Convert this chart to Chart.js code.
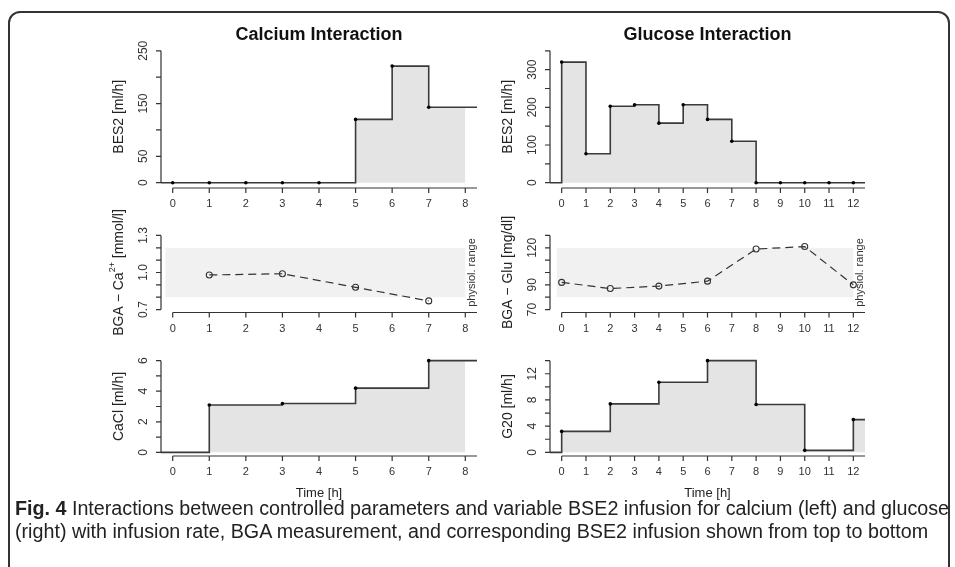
<!DOCTYPE html>
<html>
<head>
<meta charset="utf-8">
<script src="https://cdn.jsdelivr.net/npm/chart.js@4/dist/chart.umd.min.js"></script>
<style>
  body { margin: 0; background: #fff; width: 955px; height: 567px; overflow: hidden; position: relative; }
  canvas { position: absolute; left: 0; top: 0; }
  #frame { position: absolute; left: 8px; top: 11px; width: 938px; height: 620px; border: 2px solid #333; border-radius: 12px; }
  #caption { position: absolute; left: 15px; top: 497px; font-family: "Liberation Sans", Arial, sans-serif; font-size: 20px; line-height: 23px; color: #222; white-space: nowrap; }
  #caption span { display: inline-block; transform-origin: 0 50%; }
</style>
</head>
<body>
<div id="frame"></div>
<canvas id="c1" width="955" height="567"></canvas>
<canvas id="c2" width="955" height="567"></canvas>
<canvas id="c3" width="955" height="567"></canvas>
<canvas id="c4" width="955" height="567"></canvas>
<canvas id="c5" width="955" height="567"></canvas>
<canvas id="c6" width="955" height="567"></canvas>
<div id="caption"><span id="cap1"><b>Fig. 4</b> Interactions between controlled parameters and variable BSE2 infusion for calcium (left) and glucose</span><br><span id="cap2">(right) with infusion rate, BGA measurement, and corresponding BSE2 infusion shown from top to bottom</span></div>
<script>
// Calcium (links)
const caHours = [0, 1, 2, 3, 4, 5, 6, 7, 8];
const caBes2Time = [0, 1, 2, 3, 4, 5, 6, 7];
const caBes2 = [0, 0, 0, 0, 0, 120, 221, 143];
const caBgaTime = [1, 3, 5, 7];
const caBga = [0.98, 0.99, 0.88, 0.77];
const caRange = [0.8, 1.2];
const caclTime = [1, 3, 5, 7];
const cacl = [3.1, 3.2, 4.2, 6.0];

// Glucose (rechts)
const gluHours = [0, 1, 2, 3, 4, 5, 6, 7, 8, 9, 10, 11, 12];
const gluBes2Time = [0, 1, 2, 3, 4, 5, 6, 7, 8, 9, 10, 11, 12];
const gluBes2 = [320, 77, 203, 207, 158, 207, 168, 110, 0, 0, 0, 0, 0];
const gluBgaTime = [0, 2, 4, 6, 8, 10, 12];
const gluBga = [92, 87, 89, 93, 119, 121, 90];
const gluRange = [80, 120];
const g20Time = [0, 2, 4, 6, 8, 10, 12];
const g20 = [3.2, 7.4, 10.7, 14, 7.3, 0.3, 5];

// tick positions and labels (y)
const caBes2Ticks = [0, 50, 100, 150, 200, 250];
const caBes2Labels = ['0', '50', '150', '250'];
const gluBes2Ticks = [0, 50, 100, 150, 200, 250, 300, 350];
const gluBes2Labels = ['0', '100', '200', '300'];
const caBgaTicks = [0.7, 0.8, 0.9, 1.0, 1.1, 1.2, 1.3];
const caBgaLabels = ['0.7', '1.0', '1.3'];
const gluBgaTicks = [70, 80, 90, 100, 110, 120, 130];
const gluBgaLabels = ['70', '90', '120'];
const caclTicks = [0, 1, 2, 3, 4, 5, 6];
const caclLabels = ['0', '2', '4', '6'];
const g20Ticks = [0, 2, 4, 6, 8, 10, 12, 14];
const g20Labels = ['0', '4', '8', '12'];

const FONT = '"Liberation Sans", Arial, sans-serif';
const W = 955, H = 567;

// Caption schmal ziehen (Schrift wie im Original)
const capW = document.getElementById('cap1').getBoundingClientRect().width;
const capScale = 934 / capW;
document.getElementById('cap1').style.transform = 'scaleX(' + capScale + ')';
document.getElementById('cap2').style.transform = 'scaleX(' + capScale + ')';

// R-artige Achsen, Band und Beschriftungen
const rAxes = {
  id: 'rAxes',
  beforeDatasetsDraw(chart, args, o) {
    if (!o.band) return;
    const { ctx, scales: { x, y } } = chart;
    const x0 = x.getPixelForValue(o.band.x[0]), x1 = x.getPixelForValue(o.band.x[1]);
    const y0 = y.getPixelForValue(o.band.y[0]), y1 = y.getPixelForValue(o.band.y[1]);
    ctx.save();
    ctx.fillStyle = '#f1f1f1';
    ctx.fillRect(x0, y1, x1 - x0, y0 - y1);
    ctx.translate(x1 + 7, (y0 + y1) / 2);
    ctx.rotate(-Math.PI / 2);
    ctx.font = '11px ' + FONT;
    ctx.fillStyle = '#333';
    ctx.textAlign = 'center';
    ctx.textBaseline = 'middle';
    ctx.fillText('physiol. range', 0, 0);
    ctx.restore();
  },
  afterDraw(chart, args, o) {
    const { ctx, chartArea: a, scales: { x, y } } = chart;
    ctx.save();
    ctx.strokeStyle = '#333';
    ctx.lineWidth = 1.2;
    ctx.beginPath();
    const yt = o.yTicks;
    ctx.moveTo(a.left, y.getPixelForValue(yt[0]));
    ctx.lineTo(a.left, y.getPixelForValue(yt[yt.length - 1]));
    yt.forEach(v => {
      const p = y.getPixelForValue(v);
      ctx.moveTo(a.left, p); ctx.lineTo(a.left - 5, p);
    });
    const xt = o.xTicks;
    ctx.moveTo(x.getPixelForValue(xt[0]), a.bottom);
    ctx.lineTo(a.right, a.bottom);
    xt.forEach(v => {
      const p = x.getPixelForValue(v);
      ctx.moveTo(p, a.bottom); ctx.lineTo(p, a.bottom + 5);
    });
    ctx.stroke();

    ctx.fillStyle = '#333';
    ctx.textAlign = 'center';
    ctx.textBaseline = 'middle';
    ctx.font = '11px ' + FONT;
    xt.forEach(v => ctx.fillText(String(v), x.getPixelForValue(v), a.bottom + 16));
    ctx.font = '12px ' + FONT;
    o.yLabels.forEach(s => {
      ctx.save();
      ctx.translate(a.left - 17, y.getPixelForValue(parseFloat(s)));
      ctx.rotate(-Math.PI / 2);
      ctx.fillText(s, 0, 0);
      ctx.restore();
    });

    // y-Titel (mit Hochstellung)
    ctx.save();
    ctx.fillStyle = '#222';
    ctx.translate(a.left - 42, (a.top + a.bottom) / 2);
    ctx.rotate(-Math.PI / 2);
    ctx.textAlign = 'left';
    const parts = o.yTitle;
    let total = 0;
    parts.forEach(p => {
      ctx.font = (p.sup ? '9px ' : '14px ') + FONT;
      p.w = ctx.measureText(p.t).width;
      total += p.w;
    });
    let cx = -total / 2;
    parts.forEach(p => {
      ctx.font = (p.sup ? '9px ' : '14px ') + FONT;
      ctx.fillText(p.t, cx, p.sup ? -6 : 0);
      cx += p.w;
    });
    ctx.restore();

    ctx.fillStyle = '#111';
    if (o.title) {
      ctx.font = 'bold 18px ' + FONT;
      ctx.fillText(o.title, (a.left + a.right) / 2, 35);
    }
    if (o.xTitle) {
      ctx.font = '13px ' + FONT;
      ctx.fillStyle = '#222';
      ctx.fillText(o.xTitle, (a.left + a.right) / 2, a.bottom + 37);
    }
    ctx.restore();
  }
};

function pts(times, values) {
  return times.map((t, i) => ({ x: t, y: values[i] }));
}

function stepSets(times, values, xMin, xMax, fillEnd) {
  const last = values[values.length - 1];
  return [
    { data: pts(times, values), showLine: false, pointRadius: 1.8, pointBackgroundColor: '#000', pointBorderWidth: 0 },
    { data: [{ x: xMin, y: 0 }].concat(pts(times, values), [{ x: xMax, y: last }]),
      stepped: 'before', borderColor: '#3a3a3a', borderWidth: 1.6, pointRadius: 0, fill: false },
    { data: pts(times, values).concat([{ x: fillEnd, y: last }]),
      stepped: 'before', borderWidth: 0, borderColor: 'rgba(0,0,0,0)', pointRadius: 0,
      fill: 'origin', backgroundColor: '#e4e4e4' }
  ];
}

function bgaSets(times, values) {
  return [
    { data: pts(times, values), borderColor: '#333', borderWidth: 1.2, borderDash: [8, 5],
      pointRadius: 3, pointBorderWidth: 1.1, pointBorderColor: '#333',
      pointBackgroundColor: 'rgba(0,0,0,0)', fill: false, tension: 0 }
  ];
}

function panel(id, box, xr, yr, datasets, axes) {
  new Chart(document.getElementById(id), {
    type: 'line',
    data: { datasets: datasets },
    options: {
      responsive: false,
      animation: false,
      devicePixelRatio: 1,
      events: [],
      layout: { padding: { left: box[0], top: box[1], right: W - box[2], bottom: H - box[3] } },
      scales: {
        x: { type: 'linear', min: xr[0], max: xr[1], display: false },
        y: { type: 'linear', min: yr[0], max: yr[1], display: false }
      },
      plugins: { legend: { display: false }, tooltip: { enabled: false }, rAxes: axes }
    },
    plugins: [rAxes]
  });
}

const L = [161, 477], R = [550, 865];
const row1 = [45.5, 188], row2 = [232.5, 312.5], row3 = [357, 456];
const caX = [-0.32, 8.32], gluX = [-0.48, 12.48];

panel('c1', [L[0], row1[0], L[1], row1[1]], caX, [-10, 260],
  stepSets(caBes2Time, caBes2, caX[0], caX[1], 8),
  { xTicks: caHours, yTicks: caBes2Ticks, yLabels: caBes2Labels,
    yTitle: [{ t: 'BES2 [ml/h]' }], title: 'Calcium Interaction' });

panel('c2', [R[0], row1[0], R[1], row1[1]], gluX, [-14, 364],
  stepSets(gluBes2Time, gluBes2, gluX[0], gluX[1], gluX[1]),
  { xTicks: gluHours, yTicks: gluBes2Ticks, yLabels: gluBes2Labels,
    yTitle: [{ t: 'BES2 [ml/h]' }], title: 'Glucose Interaction' });

panel('c3', [L[0], row2[0], L[1], row2[1]], caX, [0.676, 1.324],
  bgaSets(caBgaTime, caBga),
  { xTicks: caHours, yTicks: caBgaTicks, yLabels: caBgaLabels,
    band: { x: [-0.2, 8], y: caRange },
    yTitle: [{ t: 'BGA \u2212 Ca' }, { t: '2+', sup: true }, { t: ' [mmol/l]' }] });

panel('c4', [R[0], row2[0], R[1], row2[1]], gluX, [67.6, 132.4],
  bgaSets(gluBgaTime, gluBga),
  { xTicks: gluHours, yTicks: gluBgaTicks, yLabels: gluBgaLabels,
    band: { x: [-0.2, 12], y: gluRange },
    yTitle: [{ t: 'BGA \u2212 Glu [mg/dl]' }] });

panel('c5', [L[0], row3[0], L[1], row3[1]], caX, [-0.24, 6.24],
  stepSets(caclTime, cacl, caX[0], caX[1], 8),
  { xTicks: caHours, yTicks: caclTicks, yLabels: caclLabels,
    yTitle: [{ t: 'CaCl [ml/h]' }], xTitle: 'Time [h]' });

panel('c6', [R[0], row3[0], R[1], row3[1]], gluX, [-0.56, 14.56],
  stepSets(g20Time, g20, gluX[0], gluX[1], gluX[1]),
  { xTicks: gluHours, yTicks: g20Ticks, yLabels: g20Labels,
    yTitle: [{ t: 'G20 [ml/h]' }], xTitle: 'Time [h]' });
</script>
</body>
</html>
